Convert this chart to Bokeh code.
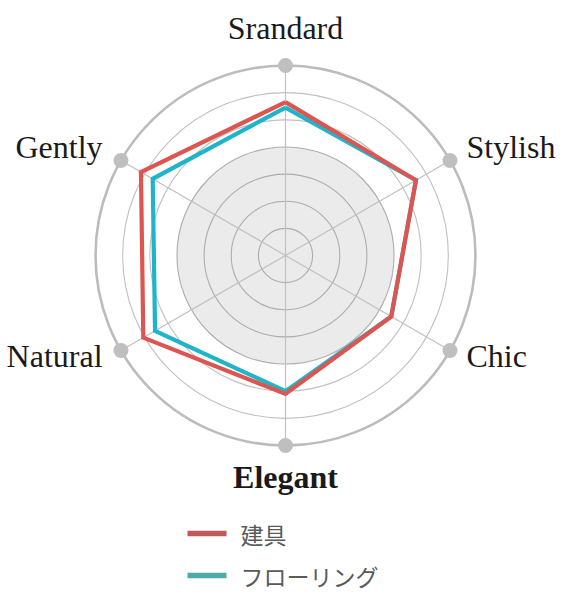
import numpy as np
from bokeh.plotting import figure
from bokeh.models import Range1d, ColumnDataSource
from bokeh.core.properties import value
from bokeh.embed import file_html
from bokeh.resources import INLINE

# ---- data ----
categories = ["Srandard", "Stylish", "Chic", "Elegant", "Natural", "Gently"]
series_names = ["建具", "フローリング"]
tategu = [5.65, 5.55, 4.5, 5.1, 6.05, 6.15]
flooring = [5.45, 5.55, 4.5, 5.0, 5.55, 5.65]
levels = [1, 2, 3, 4, 5, 6, 7]
max_level = 7
shaded_level = 4

# ---- layout (pixels) ----
W, H = 568, 592
PX = 27.14            # pixels per radial unit
CX, CY = 285, 255     # chart centre inside figure (pixels)

def px(x, y):
    """figure pixel -> data coordinate"""
    return (x - CX) / PX, (CY - y) / PX

p = figure(width=W, height=H, output_backend="svg", toolbar_location=None,
           x_range=Range1d(-CX / PX, (W - CX) / PX),
           y_range=Range1d(-(H - CY) / PX, CY / PX),
           x_axis_location=None, y_axis_location=None, min_border=0,
           outline_line_color=None)
p.grid.visible = False
p.background_fill_color = "white"
p.border_fill_color = "white"

n = len(categories)
ang = np.pi / 2 - np.arange(n) * 2 * np.pi / n

# shaded disc
p.circle(x=[0], y=[0], radius=[shaded_level], fill_color="#ebebeb", line_color=None)

# rings
inner = [l for l in levels if l <= shaded_level]
mid = [l for l in levels if shaded_level < l < max_level]
p.circle(x=[0] * len(inner), y=[0] * len(inner), radius=inner, fill_color=None,
         line_color="#adadad", line_width=1.1)
p.circle(x=[0] * len(mid), y=[0] * len(mid), radius=mid, fill_color=None,
         line_color="#c0c0c0", line_width=1.1)
p.circle(x=[0], y=[0], radius=[max_level], fill_color=None,
         line_color="#bcbcbc", line_width=2.6)

# spokes
p.segment(x0=[0] * n, y0=[0] * n, x1=max_level * np.cos(ang), y1=max_level * np.sin(ang),
          line_color="#c0c0c0", line_width=1.2)

# end dots
p.scatter(x=max_level * np.cos(ang), y=max_level * np.sin(ang), size=15,
          fill_color="#bfbfbf", line_color=None)

# series
def closed(vals):
    v = np.array(vals + vals[:1], dtype=float)
    a = np.append(ang, ang[0])
    return v * np.cos(a), v * np.sin(a)

fx, fy = closed(flooring)
p.line(fx, fy, line_color="#1fb4c9", line_width=4.2, line_join="miter")
tx, ty = closed(tategu)
p.line(tx, ty, line_color="#dc5550", line_width=4.2, line_join="miter")

# category labels
LR = 7.7
lx = LR * np.cos(ang)
ly = LR * np.sin(ang)
align, yoff, xoff, styles = [], [], [], []
for i, a in enumerate(ang):
    c = np.cos(a)
    if abs(c) < 1e-6:
        align.append("center")
        yoff.append(-19 if np.sin(a) > 0 else 13)
        xoff.append(0)
    else:
        align.append("left" if c > 0 else "right")
        yoff.append(-4)
        xoff.append(0 if c > 0 else -2)
    styles.append("bold" if categories[i] == "Elegant" else "normal")
lab = ColumnDataSource(dict(x=lx, y=ly, text=categories, align=align, yoff=yoff,
                            xoff=xoff, style=styles))
p.text(x="x", y="y", text="text", source=lab, text_align="align", y_offset="yoff",
       x_offset="xoff", text_baseline="middle", text_font=value("Liberation Serif"),
       text_font_size="32px", text_font_style="style", text_color="#1a1a1a")

# legend (manual)
legend_colors = ["#c0595b", "#4fa9a6"]
rows_y = [533, 575]
x0, _ = px(187, 0)
x1, _ = px(226, 0)
xt, _ = px(240, 0)
ys = [px(0, r)[1] for r in rows_y]
p.segment(x0=[x0] * 2, x1=[x1] * 2, y0=ys, y1=ys, line_color=legend_colors, line_width=5.5)
p.text(x=[xt] * 2, y=ys, text=series_names, text_baseline="middle", text_align="left",
       text_font=value("Noto Sans CJK JP"), text_font_size="23px", text_color="#5a5a5a")

open("out.html", "w").write(file_html(p, INLINE))
